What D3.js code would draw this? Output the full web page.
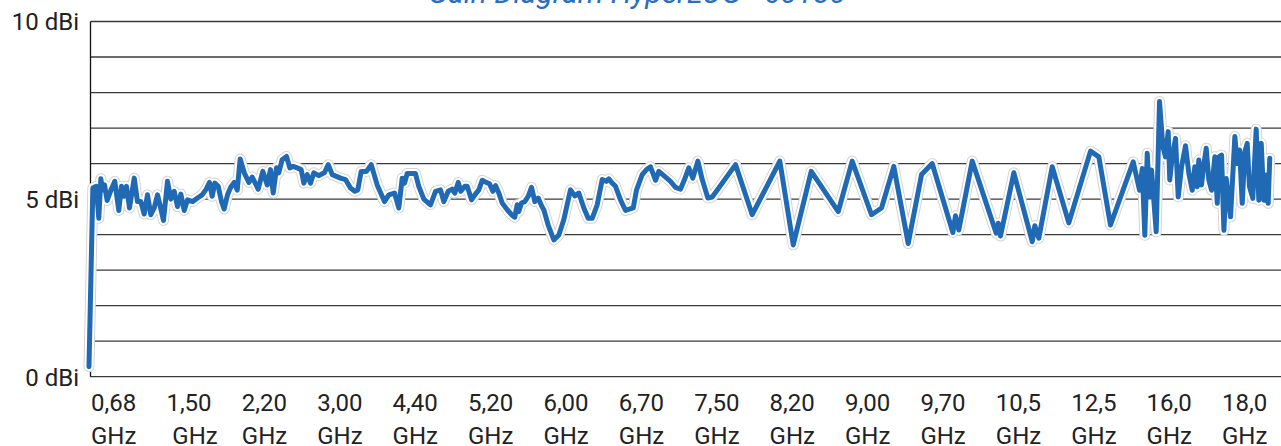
<!DOCTYPE html>
<html>
<head>
<meta charset="utf-8">
<script src="https://cdn.jsdelivr.net/npm/d3@7/dist/d3.min.js"></script>
<style>
  html, body { margin: 0; padding: 0; background: #fff; }
  svg { display: block; font-family: Roboto, "Noto Sans", sans-serif; }
</style>
</head>
<body>
<svg id="chart" width="1281" height="446"></svg>
<script>
// ---- data ----
const title = "Gain Diagram HyperLOG - 60180";
const xTickLabels = ["0,68","1,50","2,20","3,00","4,40","5,20","6,00","6,70","7,50","8,20","9,00","9,70","10,5","12,5","16,0","18,0"];
const xTickUnits  = ["GHz"," GHz","GHz","GHz","GHz","GHz","GHz","GHz","GHz","GHz","GHz","GHz","GHz","GHz","GHz","GHz"];
const yTickValues = [0, 5, 10];
const yTickLabels = ["0 dBi", "5 dBi", "10 dBi"];
// position along the frequency axis, in units of tick-label slots (0 = 0,68 GHz, 15 = 18,0 GHz)
const position = [
  -0.02,0.031,0.076,0.110,0.137,0.163,0.186,0.221,0.265,0.322,0.375,0.411,0.442,0.477,0.517,0.580,0.623,0.667,0.712,0.756,
  0.800,0.845,0.889,0.924,0.968,1.021,1.065,1.110,1.154,1.198,1.243,1.287,1.357,1.419,1.481,1.535,1.578,1.614,1.649,1.694,
  1.737,1.773,1.817,1.861,1.906,1.946,1.985,2.039,2.100,2.145,2.224,2.285,2.344,2.387,2.423,2.467,2.497,2.542,2.600,2.643,
  2.688,2.741,2.794,2.829,2.874,2.918,2.962,3.028,3.104,3.153,3.206,3.316,3.382,3.448,3.505,3.545,3.590,3.660,3.723,3.802,
  3.899,3.956,4.032,4.089,4.134,4.165,4.200,4.310,4.354,4.421,4.509,4.576,4.642,4.686,4.744,4.797,4.832,4.877,4.911,4.964,
  4.996,5.053,5.116,5.150,5.195,5.248,5.292,5.336,5.372,5.415,5.460,5.527,5.584,5.627,5.659,5.680,5.716,5.760,5.805,5.849,
  5.893,5.938,5.982,6.012,6.070,6.145,6.211,6.277,6.366,6.423,6.476,6.543,6.601,6.654,6.720,6.787,6.840,6.874,6.919,6.963,
  7.029,7.096,7.198,7.242,7.317,7.374,7.427,7.494,7.537,7.604,7.692,7.759,7.825,7.878,7.935,7.988,8.055,8.113,8.188,8.246,
  8.555,8.776,9.142,9.320,9.559,9.917,10.102,10.358,10.491,10.654,10.845,11.022,11.163,11.437,11.472,11.516,11.694,12.012,12.039,12.069,
  12.246,12.490,12.524,12.577,12.755,12.975,13.263,13.373,13.528,13.829,13.913,13.949,13.983,14.015,14.045,14.072,14.134,14.178,14.222,14.257,
  14.293,14.314,14.346,14.390,14.426,14.470,14.523,14.567,14.612,14.646,14.678,14.699,14.735,14.765,14.797,14.832,14.868,14.912,14.944,14.965,
  15.001,15.032,15.063,15.120,15.177,15.209,15.240,15.275,15.309,15.341,15.371,15.415,15.460,15.495,15.527,15.561,15.593,15.619,15.640
];
// gain in dBi
const gain = [
  0.28,5.31,5.36,4.46,5.57,5.26,5.40,4.96,5.22,5.50,4.68,5.36,5.08,5.36,4.75,5.59,4.93,4.93,4.58,5.12,
  4.56,4.75,5.12,4.81,4.40,5.50,5.00,5.22,4.79,5.14,4.68,4.98,4.93,5.03,5.12,5.28,5.47,5.08,5.45,5.36,
  4.93,4.72,5.12,5.34,5.47,5.25,6.13,5.74,5.47,5.62,5.28,5.78,5.40,5.83,5.17,5.88,5.74,6.11,6.20,5.88,
  5.92,5.88,5.83,5.45,5.69,5.45,5.74,5.66,5.75,5.97,5.69,5.59,5.55,5.31,5.22,5.26,5.78,5.78,5.97,5.40,
  4.93,5.12,5.17,4.75,5.59,5.45,5.72,5.72,5.36,5.00,4.84,5.22,5.26,4.93,5.22,5.28,5.17,5.47,5.22,5.36,
  5.36,4.98,5.17,5.26,5.53,5.47,5.43,5.22,5.38,5.17,4.89,4.70,4.56,4.49,4.84,4.65,4.89,4.93,5.08,5.33,
  4.93,5.03,4.81,4.70,4.27,3.85,3.99,4.42,5.26,5.09,5.17,4.75,4.46,4.46,4.84,5.55,5.50,5.57,5.45,5.36,
  4.98,4.68,4.75,5.26,5.69,5.83,5.91,5.53,5.78,5.66,5.50,5.33,5.28,5.55,5.88,5.59,6.07,5.55,5.03,5.06,
  5.97,4.56,6.07,3.71,5.78,4.65,6.07,4.56,4.75,5.92,3.75,5.69,6.00,4.06,4.53,4.13,6.07,4.04,4.32,3.96,
  5.74,3.80,4.25,3.90,5.91,4.33,6.35,6.19,4.27,6.05,5.25,5.86,3.98,6.29,5.06,5.82,4.08,7.75,6.48,6.19,
  6.90,5.54,6.19,6.71,5.06,5.91,6.50,5.72,5.25,5.91,5.35,6.10,5.40,5.96,6.43,5.54,5.25,6.19,4.88,6.19,
  6.24,4.12,5.58,4.50,6.76,6.00,6.38,4.88,6.33,6.57,5.35,5.02,6.97,4.97,6.57,4.97,5.68,4.88,6.15
];

(function () {
  const W = 1281;
  const svg = d3.select("#chart");
  const plotLeft = 90.5, plotTop = 21.5, plotBottom = 376.7;
  const slot = 75.4;

  const x = d3.scaleLinear().domain([0, 16]).range([plotLeft, plotLeft + slot * 16]);
  const y = d3.scaleLinear().domain([0, 10]).range([plotBottom, plotTop]);

  // horizontal grid lines
  svg.append("g").selectAll("line")
    .data(d3.range(0, 11))
    .join("line")
    .attr("x1", plotLeft).attr("x2", W)
    .attr("y1", d => y(d)).attr("y2", d => y(d))
    .attr("stroke", "#3a3a3a").attr("stroke-width", 1.3);

  // left axis line
  svg.append("line")
    .attr("x1", plotLeft).attr("x2", plotLeft)
    .attr("y1", y(10)).attr("y2", y(0))
    .attr("stroke", "#111").attr("stroke-width", 1.3);

  // y labels
  svg.append("g").selectAll("text")
    .data(yTickValues)
    .join("text")
    .attr("x", 79)
    .attr("y", d => y(d) + 8.8)
    .attr("text-anchor", "end")
    .attr("font-size", 24)
    .attr("fill", "#222")
    .text((d, i) => yTickLabels[i]);

  // x labels
  const xl = svg.append("g").selectAll("text")
    .data(xTickLabels)
    .join("text")
    .attr("font-size", 24)
    .attr("fill", "#222")
    .style("white-space", "pre");
  xl.append("tspan")
    .attr("x", (d, i) => x(i) + 0.5)
    .attr("y", 410.8)
    .text(d => d);
  xl.append("tspan")
    .attr("x", (d, i) => x(i) + 0.5)
    .attr("y", 444)
    .text((d, i) => xTickUnits[i]);

  // line with halo
  const pts = position.map((p, i) => [p, gain[i]]);
  const line = d3.line().x(d => x(d[0])).y(d => y(d[1]));
  const g = svg.append("g");
  [["#d4d4d4", 11], ["#ffffff", 9], ["#1f69b5", 5]].forEach(([c, w]) => {
    g.append("path")
      .datum(pts)
      .attr("d", line)
      .attr("fill", "none")
      .attr("stroke", c)
      .attr("stroke-width", w)
      .attr("stroke-linejoin", "round")
      .attr("stroke-linecap", "round");
  });

  // title (cut off at the top, as in the source)
  svg.append("text")
    .attr("x", 637).attr("y", 3)
    .attr("text-anchor", "middle")
    .attr("font-size", 30)
    .attr("font-style", "italic")
    .attr("fill", "#2a6ebd")
    .text(title);
})();
</script>
</body>
</html>
